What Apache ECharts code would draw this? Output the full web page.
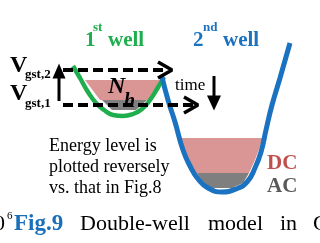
<!DOCTYPE html>
<html><head><meta charset="utf-8">
<script src="https://cdn.jsdelivr.net/npm/echarts@6/dist/echarts.min.js"></script>
<style>html,body{margin:0;padding:0;background:#fff}#c{width:320px;height:243px}</style>
</head><body><div id="c"></div>
<script>
// ---- data (diagram coordinates) ----
const greenWell = [[73,66],[80,78],[88,92],[96,103],[104,110],[113,115],[123,116],[133,114],[142,109],[150,100],[157,89],[164,77]];
const blueWell = [[162,77],[168,100],[175,122],[183,150],[190,166],[198,179],[208,188],[222,192],[236,189],[247,182],[255,168],[261,152],[266,130],[272,105],[280,78],[290,43]];
const pinkWell1 = [[85,80],[160,80],[150,100],[100,100]];
const grayWell1 = [[102,100],[147,100],[136,110],[112,110]];
const pinkWell2 = [[178,138],[263,138],[255,160],[249,173],[196,173],[186,158]];
const grayWell2 = [[197,173],[249,173],[243,183],[232,188],[210,188],[201,181]];
const dashTop = [[63,70],[167,70]];
const chevronTop = [[158,62],[172,70],[158,78]];
const dashBottom = [[63,105],[194,105]];
const chevronBottom = [[184,97],[198,105],[184,113]];
const arrowUp = [[59,101],[59,71]];
const arrowTime = [[214,76],[214,103]];

const SERIF = '"Liberation Serif", "Times New Roman", serif';
const GREEN = '#1fae4e', BLUE = '#1b72c0', PINK = '#d99694', GRAY = '#7f7f7f';

const labels = [
  {t:'V', x:10, y:65.7, f:'bold 24px', c:'#000'},
  {t:'gst,2', x:25, y:75, f:'bold 13px', c:'#000'},
  {t:'V', x:10, y:93.5, f:'bold 24px', c:'#000'},
  {t:'gst,1', x:25, y:104, f:'bold 13px', c:'#000'},
  {t:'1', x:85, y:40.6, f:'bold 21px', c:GREEN},
  {t:'st', x:93, y:28, f:'bold 13px', c:GREEN},
  {t:'well', x:108, y:40.6, f:'bold 21px', c:GREEN},
  {t:'2', x:193, y:40.6, f:'bold 21px', c:BLUE},
  {t:'nd', x:203, y:28, f:'bold 13px', c:BLUE},
  {t:'well', x:223, y:40.6, f:'bold 21px', c:BLUE},
  {t:'N', x:108, y:87, f:'italic bold 24px', c:'#000'},
  {t:'h', x:124, y:102, f:'italic bold 20px', c:'#000'},
  {t:'time', x:175, y:85.8, f:'17px', c:'#000'},
  {t:'Energy level is', x:49, y:146.5, f:'18px', c:'#000'},
  {t:'plotted reversely', x:49, y:167.5, f:'18px', c:'#000'},
  {t:'vs. that in Fig.8', x:49, y:188.5, f:'18px', c:'#000'},
  {t:'DC', x:267, y:163.6, f:'bold 21px', c:'#c0504d'},
  {t:'AC', x:267, y:186.6, f:'bold 21px', c:'#595959'},
  {t:'0', x:-6, y:224.3, f:'22px', c:'#000'},
  {t:'6', x:7, y:216.6, f:'11px', c:'#000'},
  {t:'Fig.9', x:14, y:224.3, f:'bold 23px', c:'#1a6fba'},
  {t:'Double-well', x:80, y:224.3, f:'22px', c:'#000'},
  {t:'model', x:208, y:224.3, f:'22px', c:'#000'},
  {t:'in', x:280, y:224.3, f:'22px', c:'#000'},
  {t:'C', x:313, y:224.3, f:'22px', c:'#000'}
];

function polySeries(pts, color){
  return {type:'custom', silent:true, z:1, data:[[0,0]],
    renderItem:function(params, api){
      return {type:'polygon', shape:{points:pts.map(p=>api.coord(p))}, style:{fill:color}};
    }};
}
function lineSeries(pts, color, width, opts){
  return Object.assign({type:'line', data:pts, symbol:'none', silent:true, animation:false, z:3,
    lineStyle:{color:color, width:width}}, opts||{});
}

const chart = echarts.init(document.getElementById('c'), null, {renderer:'canvas'});
chart.setOption({
  animation:false,
  backgroundColor:'#fff',
  grid:{left:0,right:0,top:0,bottom:0},
  xAxis:{type:'value', min:0, max:320, show:false},
  yAxis:{type:'value', min:0, max:243, inverse:true, show:false},
  series:[
    polySeries(pinkWell1, PINK),
    polySeries(grayWell1, GRAY),
    polySeries(pinkWell2, PINK),
    polySeries(grayWell2, GRAY),
    lineSeries(greenWell, GREEN, 4.5, {smooth:0.5}),
    lineSeries(blueWell, BLUE, 5, {smooth:0.5}),
    lineSeries(dashTop, '#000', 4, {lineStyle:{color:'#000', width:4, type:[10,5]}}),
    lineSeries(dashBottom, '#000', 4, {lineStyle:{color:'#000', width:4, type:[10,5]}}),
    lineSeries(chevronTop, '#000', 3.5),
    lineSeries(chevronBottom, '#000', 3.5),
    {type:'line', silent:true, z:3, lineStyle:{color:'#000', width:3}, itemStyle:{color:'#000'},
     data:[{value:arrowUp[0], symbol:'none'}, {value:arrowUp[1], symbol:'triangle', symbolSize:[13,15]}]},
    {type:'line', silent:true, z:3, lineStyle:{color:'#000', width:3}, itemStyle:{color:'#000'},
     data:[{value:arrowTime[0], symbol:'none'}, {value:arrowTime[1], symbol:'triangle', symbolSize:[14,15], symbolRotate:180}]}
  ],
  graphic: {elements: labels.map(l=>({type:'text', x:l.x, y:l.y, silent:true, z:100, zlevel:0,
    style:{text:l.t, font:l.f+' '+SERIF, fill:l.c, verticalAlign:'middle', align:'left', textVerticalAlign:'middle', textAlign:'left'}}))}
});
</script></body></html>
